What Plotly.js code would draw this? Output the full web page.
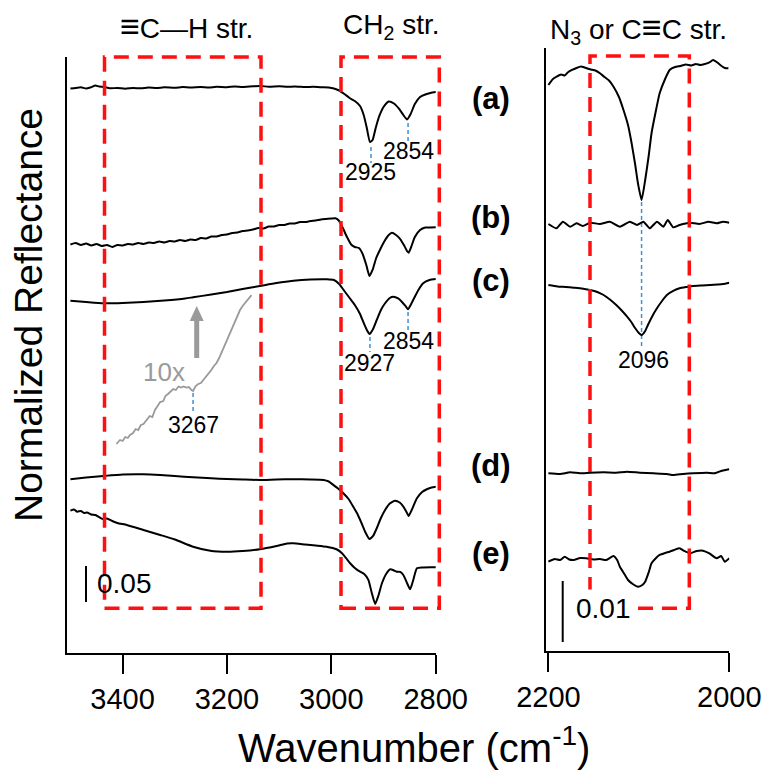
<!DOCTYPE html>
<html><head><meta charset="utf-8">
<script src="https://cdn.plot.ly/plotly-3.0.1.min.js"></script>
<style>html,body{margin:0;padding:0;background:#fff;}</style>
</head><body>
<div id="chart" style="width:765px;height:771px;"></div>
<script>
// ---------- DATA (relative reflectance) ----------
// Left panel (3500-2800 cm-1)
const leftWnA = [3500,3490,3480,3470,3462,3452,3445,3435,3425,3410,3395,3380,3365,3350,3335,3320,3300,3285,3270,3250,3235,3220,3200,3185,3170,3150,3135,3120,3100,3085,3070,3050,3035,3020,3005,2995,2985,2975,2965,2955,2945,2938,2932,2926,2921,2915,2908,2900,2890,2880,2870,2862,2855,2848,2840,2830,2820,2810,2798];
const leftValA = [-0.0007,0,0.0010,-0.0007,0.0007,0.0035,0.0021,0.0014,-0.0004,0,-0.0011,0,-0.0004,0.0007,0,0.0010,0.0003,0.0014,0.0006,0.0014,0.0007,0.0017,0.0011,0.0021,0.0014,0.0024,0.0028,0.0017,0.0024,0.0017,0.0021,0.0014,0.0017,0.0010,0.0007,-0.0007,-0.0035,-0.0084,-0.0140,-0.0182,-0.0252,-0.0378,-0.0560,-0.0756,-0.0728,-0.0560,-0.0392,-0.0266,-0.0189,-0.0217,-0.0294,-0.0378,-0.0441,-0.0364,-0.0224,-0.0126,-0.0091,-0.0070,-0.0056];

const leftWnB = [3500,3490,3480,3470,3460,3450,3440,3430,3420,3410,3400,3390,3380,3370,3360,3350,3340,3330,3320,3310,3300,3290,3280,3270,3260,3250,3240,3230,3220,3210,3200,3190,3180,3170,3160,3150,3140,3130,3120,3110,3100,3090,3080,3070,3060,3050,3040,3030,3020,3010,3000,2992,2985,2978,2970,2962,2955,2947,2940,2933,2927,2921,2914,2906,2898,2890,2884,2876,2868,2861,2855,2852,2847,2840,2830,2820,2810,2798];
const leftValB = [-0.0007,0.0014,-0.0014,0.0007,-0.0021,0,-0.0028,-0.0014,-0.0042,-0.0014,-0.0021,0,-0.0007,0.0014,0,0.0021,0.0014,0.0035,0.0021,0.0042,0.0035,0.0056,0.0042,0.0063,0.0056,0.0084,0.0077,0.0105,0.0105,0.0126,0.0133,0.0154,0.0161,0.0182,0.0189,0.0203,0.0224,0.0217,0.0245,0.0245,0.0266,0.0266,0.0287,0.0287,0.0308,0.0308,0.0322,0.0329,0.0343,0.0350,0.0357,0.0360,0.0322,0.0224,0.0098,-0.0007,-0.0042,-0.0056,-0.0140,-0.0294,-0.0448,-0.0364,-0.0196,-0.0070,0.0042,0.0126,0.0158,0.0126,0.0070,-0.0014,-0.0098,-0.0122,-0.0042,0.0098,0.0196,0.0231,0.0231,0.0234];

const leftWnC = [3500,3470,3437,3400,3360,3320,3280,3265,3230,3200,3170,3137,3105,3073,3040,3009,2995,2985,2975,2965,2955,2945,2938,2932,2927,2920,2913,2905,2897,2888,2881,2872,2865,2858,2853,2847,2840,2832,2824,2812,2798];
const leftValC = [0.0004,-0.0014,-0.0032,-0.0028,-0.0014,0.0007,0.0035,0.0052,0.0091,0.0126,0.0168,0.0210,0.0252,0.0284,0.0301,0.0304,0.0294,0.0238,0.0140,0.0042,-0.0056,-0.0182,-0.0308,-0.0406,-0.0462,-0.0392,-0.0266,-0.0126,-0.0032,0.0042,0.0060,0.0035,-0.0010,-0.0070,-0.0116,-0.0042,0.0060,0.0168,0.0248,0.0294,0.0308];

// spectrum (c) magnified 10x, 3410-3150 cm-1
const leftWnC10 = [3412,3405,3400,3395,3390,3386,3380,3375,3370,3365,3360,3354,3348,3343,3338,3333,3328,3322,3318,3313,3308,3303,3298,3293,3288,3283,3278,3273,3268,3265,3260,3255,3250,3245,3240,3235,3230,3225,3220,3215,3210,3205,3200,3195,3190,3185,3180,3175,3170,3165,3160,3153];
const leftValC10 = [-0.0014,0.0042,0.0028,0.0084,0.0070,0.0112,0.0140,0.0196,0.0182,0.0252,0.0266,0.0322,0.0378,0.0364,0.0462,0.0518,0.0574,0.0588,0.0658,0.0686,0.0728,0.0756,0.0742,0.0791,0.0777,0.0791,0.0777,0.0784,0.0742,0.0728,0.0798,0.0826,0.0840,0.0882,0.0938,0.0980,0.1022,0.1078,0.1120,0.1190,0.1274,0.1358,0.1442,0.1540,0.1624,0.1694,0.1792,0.1862,0.1918,0.1960,0.2016,0.2072];

const leftWnD = [3500,3470,3437,3400,3360,3328,3300,3265,3230,3200,3170,3137,3105,3073,3040,3015,3005,2996,2986,2977,2967,2958,2950,2942,2935,2927,2920,2913,2905,2897,2888,2878,2869,2862,2856,2852,2846,2836,2826,2817,2808,2798];
const leftValD = [-0.0004,0.0021,0.0042,0.0063,0.0066,0.0056,0.0042,0.0024,0.0010,0,-0.0007,-0.0014,-0.0007,-0.0004,-0.0007,-0.0014,-0.0035,-0.0084,-0.0140,-0.0200,-0.0280,-0.0388,-0.0490,-0.0620,-0.0742,-0.0840,-0.0798,-0.0690,-0.0546,-0.0434,-0.0343,-0.0304,-0.0329,-0.0388,-0.0462,-0.0518,-0.0434,-0.0270,-0.0182,-0.0144,-0.0119,-0.0108];

const leftWnE = [3500,3493,3487,3480,3474,3468,3460,3452,3444,3437,3430,3420,3410,3392,3360,3328,3300,3265,3232,3200,3170,3137,3105,3085,3073,3050,3030,3009,2990,2980,2972,2964,2955,2945,2937,2929,2923,2916,2910,2903,2895,2887,2880,2875,2868,2862,2855,2849,2843,2836,2825,2810,2798];
const leftValE = [0.0004,0.0021,-0.0010,0,-0.0028,-0.0021,-0.0049,-0.0056,-0.0091,-0.0116,-0.0105,-0.0140,-0.0168,-0.0196,-0.0266,-0.0336,-0.0399,-0.0500,-0.0556,-0.0570,-0.0560,-0.0536,-0.0490,-0.0455,-0.0452,-0.0469,-0.0483,-0.0500,-0.0536,-0.0588,-0.0658,-0.0732,-0.0798,-0.0850,-0.0882,-0.0966,-0.1134,-0.1302,-0.1190,-0.1012,-0.0882,-0.0816,-0.0833,-0.0850,-0.0854,-0.0896,-0.1008,-0.1096,-0.0966,-0.0802,-0.0791,-0.0788,-0.0788];

// Right panel (2200-2000 cm-1)
const rightWnA = [2200,2195,2191,2186,2182,2178,2174,2169,2164,2160,2154,2148,2143,2138,2133,2128,2122,2117,2112,2108,2104,2101,2097,2093,2089,2086,2081,2077,2071,2066,2060,2054,2048,2042,2037,2032,2027,2022,2018,2014,2010,2005,2001];
const rightValA = [-0.00246,-0.00148,-0.00110,-0.00074,-0.00090,-0.00033,0,0.00033,0.00057,0.00041,0.00011,-0.00008,-0.00054,-0.00115,-0.00172,-0.00274,-0.00443,-0.00656,-0.00902,-0.01202,-0.01558,-0.01858,-0.02132,-0.01804,-0.01394,-0.01038,-0.00656,-0.00382,-0.00148,0,0.00049,0.00066,0.00090,0.00074,0.00098,0.00082,0.00098,0.00123,0.00164,0.00131,0.00082,0.00033,0.00028];

const rightWnB = [2200,2191,2184,2176,2169,2162,2154,2143,2132,2121,2110,2102,2095,2088,2080,2073,2068,2062,2055,2044,2033,2023,2014,2007,2000];
const rightValB = [-0.00016,-0.00087,0.00021,-0.00061,-0.00005,-0.00049,0.00005,-0.00016,0.00021,-0.00061,0.00021,-0.00033,0.00021,-0.00087,0.00021,-0.00061,0.00049,-0.00071,-0.00033,0.00005,-0.00016,0.00021,-0.00005,0.00021,0.00005];

const rightWnC = [2200,2190,2181,2172,2163,2154,2146,2139,2132,2125,2119,2113,2108,2104,2100,2097,2093,2090,2085,2080,2074,2069,2062,2055,2047,2040,2030,2021,2013,2007,2000];
const rightValC = [0.00016,-0.00008,-0.00016,-0.00028,-0.00041,-0.00066,-0.00098,-0.00148,-0.00221,-0.00312,-0.00402,-0.00503,-0.00599,-0.00694,-0.00771,-0.00804,-0.00738,-0.00640,-0.00492,-0.00366,-0.00238,-0.00148,-0.00082,-0.00038,-0.00016,0,0.00008,0.00016,0.00025,0.00033,0.00054];

const rightWnD = [2200,2187,2176,2165,2154,2139,2125,2113,2099,2084,2069,2062,2051,2040,2025,2016,2008,2000];
const rightValD = [-0.00005,-0.00016,0.00011,-0.00005,0.00005,0.00011,0.00005,0.00021,0.00005,-0.00005,-0.00016,-0.00033,-0.00016,-0.00005,0.00005,-0.00005,0.00038,0.00061];

const rightWnE = [2200,2193,2187,2182,2177,2172,2165,2158,2150,2143,2136,2128,2124,2121,2116,2112,2106,2101,2097,2093,2089,2086,2081,2077,2071,2066,2061,2055,2050,2043,2036,2029,2022,2014,2009,2005,2000];
const rightValE = [-0.00028,0.00016,0,0.00054,0.00008,0,0.00033,0.00028,0.00008,0.00016,0,0.00066,0,-0.00110,-0.00230,-0.00328,-0.00402,-0.00438,-0.00418,-0.00356,-0.00197,-0.00054,0.00033,0.00082,0.00115,0.00136,0.00164,0.00192,0.00148,0.00110,0.00148,0.00153,0.00107,0.00028,0.00066,-0.00028,0.00028];

const peakLabels = ["2925","2854","2927","2854","3267","2096"];
const sampleLabels = ["(a)","(b)","(c)","(d)","(e)"];

// ---------- LAYOUT HELPERS ----------
const W = 765, H = 771;
const X = px => px / W;
const Y = py => 1 - py / H;
const FONT = "Arial, 'Liberation Sans', sans-serif";

// stacking offsets (display only)
const offL = {a:0.7913, b:0.5728, c:0.4930, c10:0.2941, d:0.2437, e:0.1989};
const offR = {a:0.09525, b:0.07016, c:0.05984, d:0.02918, e:0.01492};
const shift = (arr, o) => arr.map(v => v + o);

const line = {color:'#000', width:2, shape:'spline', smoothing:0.5};
const traces = [
  {x:leftWnA, y:shift(leftValA, offL.a), xaxis:'x', yaxis:'y', mode:'lines', line},
  {x:leftWnB, y:shift(leftValB, offL.b), xaxis:'x', yaxis:'y', mode:'lines', line},
  {x:leftWnC, y:shift(leftValC, offL.c), xaxis:'x', yaxis:'y', mode:'lines', line},
  {x:leftWnC10, y:shift(leftValC10, offL.c10), xaxis:'x', yaxis:'y', mode:'lines', line:{color:'#9a9a9a', width:1.8}},
  {x:leftWnD, y:shift(leftValD, offL.d), xaxis:'x', yaxis:'y', mode:'lines', line},
  {x:leftWnE, y:shift(leftValE, offL.e), xaxis:'x', yaxis:'y', mode:'lines', line},
  {x:rightWnA, y:shift(rightValA, offR.a), xaxis:'x2', yaxis:'y2', mode:'lines', line},
  {x:rightWnB, y:shift(rightValB, offR.b), xaxis:'x2', yaxis:'y2', mode:'lines', line},
  {x:rightWnC, y:shift(rightValC, offR.c), xaxis:'x2', yaxis:'y2', mode:'lines', line},
  {x:rightWnD, y:shift(rightValD, offR.d), xaxis:'x2', yaxis:'y2', mode:'lines', line},
  {x:rightWnE, y:shift(rightValE, offR.e), xaxis:'x2', yaxis:'y2', mode:'lines', line}
];

const axisCommon = {showgrid:false, zeroline:false, showline:true, linecolor:'#000', linewidth:2};
const red = {color:'#ff1010', width:3.5, dash:'15px,9px'};
const blue = {color:'#3d8fd8', width:1.5, dash:'4px,3px'};
const gray = '#9a9a9a';

const shapes = [
  // red dashed regions
  {type:'rect', xref:'paper', yref:'paper', x0:X(104.5), x1:X(261), y0:Y(608.3), y1:Y(57), line:red, layer:'above'},
  {type:'rect', xref:'paper', yref:'paper', x0:X(341), x1:X(439.3), y0:Y(608.3), y1:Y(57), line:red, layer:'above'},
  {type:'rect', xref:'paper', yref:'paper', x0:X(590), x1:X(689.3), y0:Y(608.3), y1:Y(56), line:red, layer:'above'},
  // peak markers
  {type:'line', xref:'x', yref:'paper', x0:2924, x1:2924, y0:Y(147), y1:Y(163), line:blue},
  {type:'line', xref:'x', yref:'paper', x0:2853, x1:2853, y0:Y(123), y1:Y(141), line:blue},
  {type:'line', xref:'x', yref:'paper', x0:2926, x1:2926, y0:Y(337), y1:Y(352), line:blue},
  {type:'line', xref:'x', yref:'paper', x0:2853, x1:2853, y0:Y(312), y1:Y(330), line:blue},
  {type:'line', xref:'x', yref:'paper', x0:3265, x1:3265, y0:Y(393), y1:Y(413), line:blue},
  {type:'line', xref:'x2', yref:'paper', x0:2097, x1:2097, y0:Y(202), y1:Y(347), line:blue, layer:'below'},
  // scale bars
  {type:'line', xref:'paper', yref:'paper', x0:X(86), x1:X(86), y0:Y(566), y1:Y(602), line:{color:'#000', width:2}},
  {type:'line', xref:'paper', yref:'paper', x0:X(562.7), x1:X(562.7), y0:Y(581), y1:Y(642), line:{color:'#000', width:2}},
  // gray "10x" arrow
  {type:'line', xref:'paper', yref:'paper', x0:X(196.7), x1:X(196.7), y0:Y(358), y1:Y(320), line:{color:gray, width:5}},
  {type:'path', xref:'paper', yref:'paper', path:`M ${X(189.7)} ${Y(321)} L ${X(203.7)} ${Y(321)} L ${X(196.7)} ${Y(306)} Z`, fillcolor:gray, line:{color:gray, width:0}}
];

const ann = (text, px, py, size, extra) => Object.assign({text, xref:'paper', yref:'paper', x:X(px), y:Y(py), xanchor:'center', yanchor:'middle', showarrow:false, font:{family:FONT, size, color:'#000'}}, extra || {});
const bold = size => ({font:{family:FONT, size, color:'#000', weight:'bold'}});

const annotations = [
  ann('<span style="font-size:34px">≡</span>C—H str.', 186, 26, 28),
  ann('CH<sub>2</sub> str.', 391, 27, 28),
  ann('N<sub>3</sub> or C<span style="font-size:34px">≡</span>C str.', 638, 29, 28),
  ann(peakLabels[0], 370, 172, 23),
  ann(peakLabels[1], 408, 151, 23),
  ann(peakLabels[2], 369, 363, 23),
  ann(peakLabels[3], 408, 341, 23),
  ann(peakLabels[4], 193, 425, 23),
  ann(peakLabels[5], 643, 360, 23),
  ann('10x', 164, 372, 26, {font:{family:FONT, size:26, color:gray}}),
  ann('0.05', 124, 583, 28),
  ann('0.01', 603, 608, 28, {bgcolor:'#fff', borderpad:3}),
  ann(sampleLabels[0], 491, 98, 31, bold(31)),
  ann(sampleLabels[1], 491, 217, 31, bold(31)),
  ann(sampleLabels[2], 491, 280, 31, bold(31)),
  ann(sampleLabels[3], 491, 466, 31, bold(31)),
  ann(sampleLabels[4], 491, 553, 31, bold(31)),
  ann('Normalized Reflectance', 28, 315, 39, {textangle:-90}),
  ann('Wavenumber (cm<sup>-1</sup>)', 414, 745, 40)
];

const layout = {
  width:W, height:H, margin:{l:0, r:0, t:0, b:0},
  paper_bgcolor:'#fff', plot_bgcolor:'rgba(0,0,0,0)', showlegend:false,
  xaxis: Object.assign({}, axisCommon, {domain:[X(67.3), X(435.7)], range:[3506, 2800], anchor:'y',
    tickvals:[3400,3200,3000,2800], ticks:'outside', ticklen:19, tickwidth:2, tickcolor:'#000',
    tickfont:{family:FONT, size:29, color:'#000'}, ticklabelstandoff:0}),
  yaxis: Object.assign({}, axisCommon, {domain:[Y(653), Y(57)], range:[0, 0.8347], anchor:'x', showticklabels:false, ticks:''}),
  xaxis2: Object.assign({}, axisCommon, {domain:[X(545.7), X(729.3)], range:[2203, 2000], anchor:'y2',
    tickvals:[2200,2000], ticks:'outside', ticklen:19, tickwidth:2, tickcolor:'#000',
    tickfont:{family:FONT, size:29, color:'#000'}, ticklabelstandoff:0}),
  yaxis2: Object.assign({}, axisCommon, {domain:[Y(651), Y(48)], range:[0, 0.09885], anchor:'x2', showticklabels:false, ticks:''}),
  shapes, annotations
};

Plotly.newPlot('chart', traces, layout, {staticPlot:true, displayModeBar:false});
</script>
</body></html>
